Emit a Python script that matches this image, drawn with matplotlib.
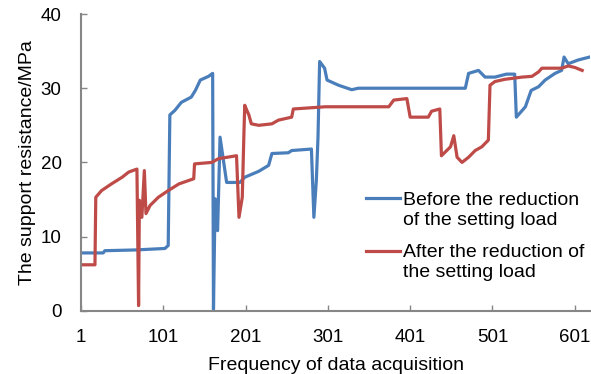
import matplotlib
matplotlib.use("Agg")
import matplotlib.pyplot as plt
from matplotlib.legend_handler import HandlerLine2D

plt.rcParams['font.family'] = ['Liberation Sans', 'DejaVu Sans']

# breakpoints (data index, MPa)
before_x = [1, 28, 30, 67, 103, 107, 109, 115, 123, 135, 140, 146, 156, 161, 162,
            164, 167, 170, 178, 194, 200, 217, 229, 233, 253, 257, 281, 284,
            287, 289, 291, 297, 300, 314, 330, 338, 468, 472, 484, 492, 504,
            518, 528, 530, 541, 548, 557, 565, 577, 585, 588, 593, 605, 619]
before_y = [7.8, 7.8, 8.1, 8.2, 8.4, 8.8, 26.4, 27.0, 28.1, 28.8, 29.7, 31.1, 31.6,
            32.0, 0.2, 15.1, 10.8, 23.4, 17.3, 17.3, 18.0, 18.8, 19.6, 21.2,
            21.3, 21.6, 21.8, 12.6, 17.6, 23.4, 33.6, 32.7, 31.1, 30.4, 29.8,
            30.0, 30.0, 32.0, 32.4, 31.5, 31.5, 31.9, 31.9, 26.1, 27.5, 29.7,
            30.2, 31.1, 32.0, 32.4, 34.2, 33.3, 33.8, 34.2]

after_x = [1, 18, 19, 26, 38, 51, 59, 69, 71, 72, 75, 78, 80, 85, 95, 107, 120,
           138, 139, 160, 168, 190, 193, 197, 199, 200, 203, 205, 208, 217, 233,
           241, 257, 259, 298, 375, 381, 397, 401, 423, 427, 437, 439, 450,
           454, 458, 464, 472, 480, 488, 496, 498, 504, 516, 537, 549, 557,
           561, 585, 593, 601, 610]
after_y = [6.2, 6.2, 15.3, 16.2, 17.1, 18.0, 18.7, 19.1, 0.7, 14.9, 12.6, 18.9,
           13.1, 14.2, 15.3, 16.2, 17.1, 17.8, 19.8, 20.0, 20.5, 20.9, 12.6,
           15.3, 23.9, 27.7, 26.9, 26.4, 25.2, 25.0, 25.2, 25.7, 26.1, 27.2,
           27.5, 27.5, 28.4, 28.6, 26.1, 26.1, 26.9, 27.2, 20.9, 22.1, 23.6,
           20.7, 20.0, 20.7, 21.6, 22.1, 23.0, 30.4, 30.9, 31.2, 31.5, 31.6,
           32.2, 32.7, 32.7, 33.0, 32.8, 32.4]

x_ticks = [1, 101, 201, 301, 401, 501, 601]
y_ticks = [0, 10, 20, 30, 40]


class FirstLineHandler(HandlerLine2D):
    # put the legend line next to the first text line, like Excel does
    def create_artists(self, legend, orig_handle, xdescent, ydescent,
                       width, height, fontsize, trans):
        arts = super().create_artists(legend, orig_handle, xdescent, ydescent,
                                      width, height, fontsize, trans)
        for a in arts:
            a.set_ydata([y + 0.6 * fontsize for y in a.get_ydata()])
        return arts


fig = plt.figure(figsize=(5.91, 3.74), dpi=100)
ax = fig.add_axes([0.137, 0.169, 0.862, 0.7935])

l1, = ax.plot(before_x, before_y, color='#4A7EBB', lw=2.3, solid_joinstyle='round',
              label='Before the reduction\nof the setting load')
l2, = ax.plot(after_x, after_y, color='#BE4B48', lw=2.3, solid_joinstyle='round',
              label='After the reduction of\nthe setting load')

ax.set_xlim(1, 620)
ax.set_ylim(0, 40)
ax.set_xticks(x_ticks)
ax.set_yticks(y_ticks)
for s in ['top', 'right']:
    ax.spines[s].set_visible(False)
for s in ['left', 'bottom']:
    ax.spines[s].set_color('#868686')
    ax.spines[s].set_linewidth(1.5)
ax.tick_params(direction='in', length=4, width=1, color='#868686',
               labelsize=13.5, labelcolor='black')
ax.tick_params(axis='x', pad=13)
ax.tick_params(axis='y', pad=14)

ax.set_xlabel('Frequency of data acquisition', fontsize=14, labelpad=8)
ax.set_ylabel('The support resistance/MPa', fontsize=14, labelpad=3)

ax.legend(handler_map={l1: FirstLineHandler(), l2: FirstLineHandler()},
          loc='upper left', bbox_to_anchor=(0.56, 0.40), frameon=False,
          fontsize=14, handlelength=1.75, handletextpad=0.15, labelspacing=0.8,
          borderaxespad=0, borderpad=0)

fig.savefig('out.png', dpi=100)
